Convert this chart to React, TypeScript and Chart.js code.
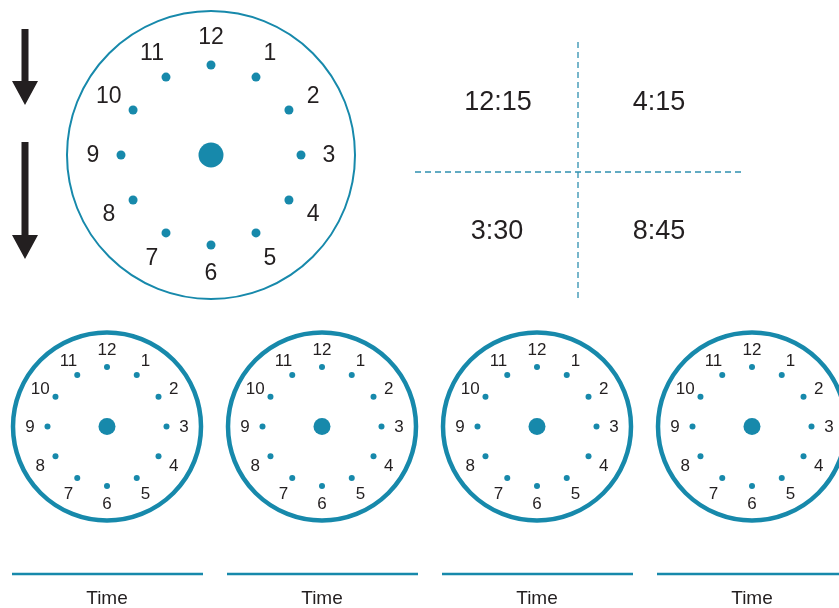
import React, { useEffect, useRef } from "react";
import { Chart, registerables } from "chart.js";

Chart.register(...registerables);

// ---- data ----
const hourLabels = [1, 2, 3, 4, 5, 6, 7, 8, 9, 10, 11, 12];
const quizTimes = ["12:15", "4:15", "3:30", "8:45"];
const answerLabel = "Time";
const smallClockCount = 4;

// ---- layout / style ----
const W = 839;
const H = 608;
const TEAL = "#1789ab";
const DASH = "#2f90b0";
const INK = "#231f20";
const FONT = "'Liberation Sans', Arial, Helvetica, sans-serif";

type ClockSpec = {
  cx: number; cy: number; r: number; lw: number;
  dotR: number; dotSize: number; numR: number; font: number; hubR: number;
};

const bigClock: ClockSpec = { cx: 211, cy: 155, r: 144, lw: 2, dotR: 90, dotSize: 4.5, numR: 118, font: 23, hubR: 12.5 };
const smallClocks: ClockSpec[] = Array.from({ length: smallClockCount }, (_, i) => ({
  cx: 107 + i * 215, cy: 426.5, r: 94, lw: 4.5, dotR: 59.5, dotSize: 3, numR: 77, font: 17, hubR: 8.5,
}));
const allClocks = [bigClock, ...smallClocks];

const angleOf = (h: number) => ((h % 12) / 12) * Math.PI * 2;

function dotPoints(c: ClockSpec) {
  return hourLabels.map((h) => ({
    x: c.cx + Math.sin(angleOf(h)) * c.dotR,
    y: c.cy - Math.cos(angleOf(h)) * c.dotR,
  }));
}

const worksheetPlugin = {
  id: "worksheet",
  beforeDatasetsDraw(chart: any) {
    const ctx = chart.ctx as CanvasRenderingContext2D;
    const xs = chart.scales.x;
    const ys = chart.scales.y;
    const px = (v: number) => xs.getPixelForValue(v);
    const py = (v: number) => ys.getPixelForValue(v);
    const sx = (d: number) => px(d) - px(0);
    ctx.save();

    // clock rims
    allClocks.forEach((c) => {
      ctx.beginPath();
      ctx.strokeStyle = TEAL;
      ctx.lineWidth = c.lw;
      ctx.arc(px(c.cx), py(c.cy), sx(c.r), 0, Math.PI * 2);
      ctx.stroke();
    });

    // hour numbers
    ctx.fillStyle = INK;
    ctx.textAlign = "center";
    ctx.textBaseline = "middle";
    allClocks.forEach((c) => {
      ctx.font = `${c.font}px ${FONT}`;
      hourLabels.forEach((h) => {
        const a = angleOf(h);
        ctx.fillText(String(h), px(c.cx + Math.sin(a) * c.numR), py(c.cy - Math.cos(a) * c.numR) + 1);
      });
    });

    // arrows
    const arrows = [
      { x: 25, y0: 29, y1: 105 },
      { x: 25, y0: 142, y1: 259 },
    ];
    ctx.fillStyle = INK;
    arrows.forEach((a) => {
      const shaft = 3.5;
      const head = 13;
      const headLen = 24;
      ctx.beginPath();
      ctx.moveTo(px(a.x - shaft), py(a.y0));
      ctx.lineTo(px(a.x + shaft), py(a.y0));
      ctx.lineTo(px(a.x + shaft), py(a.y1 - headLen));
      ctx.lineTo(px(a.x + head), py(a.y1 - headLen));
      ctx.lineTo(px(a.x), py(a.y1));
      ctx.lineTo(px(a.x - head), py(a.y1 - headLen));
      ctx.lineTo(px(a.x - shaft), py(a.y1 - headLen));
      ctx.closePath();
      ctx.fill();
    });

    // dashed cross
    ctx.strokeStyle = DASH;
    ctx.lineWidth = 1.3;
    ctx.setLineDash([6, 4]);
    ctx.beginPath();
    ctx.moveTo(px(578), py(42));
    ctx.lineTo(px(578), py(300));
    ctx.moveTo(px(415), py(172));
    ctx.lineTo(px(741), py(172));
    ctx.stroke();
    ctx.setLineDash([]);

    // times
    ctx.fillStyle = INK;
    ctx.font = `27px ${FONT}`;
    const slots = [
      { x: 498, y: 102 }, { x: 659, y: 102 },
      { x: 497, y: 231 }, { x: 659, y: 231 },
    ];
    quizTimes.forEach((t, i) => ctx.fillText(t, px(slots[i].x), py(slots[i].y) + 1));

    // answer lines and labels
    smallClocks.forEach((c) => {
      ctx.strokeStyle = TEAL;
      ctx.lineWidth = 2.5;
      ctx.beginPath();
      ctx.moveTo(px(c.cx - 95), py(574));
      ctx.lineTo(px(c.cx + 96), py(574));
      ctx.stroke();
      ctx.fillStyle = INK;
      ctx.font = `19px ${FONT}`;
      ctx.fillText(answerLabel, px(c.cx), py(598) + 1);
    });
    ctx.restore();
  },
};

export default function App() {
  const ref = useRef<HTMLCanvasElement>(null);
  useEffect(() => {
    if (!ref.current) return;
    const datasets: any[] = [];
    allClocks.forEach((c) => {
      datasets.push({
        data: dotPoints(c),
        pointRadius: c.dotSize,
        pointBackgroundColor: TEAL,
        pointBorderWidth: 0,
        showLine: false,
        clip: false,
      });
      datasets.push({
        data: [{ x: c.cx, y: c.cy }],
        pointRadius: c.hubR,
        pointBackgroundColor: TEAL,
        pointBorderWidth: 0,
        showLine: false,
        clip: false,
      });
    });
    const chart = new Chart(ref.current, {
      type: "scatter",
      data: { datasets },
      options: {
        animation: false,
        responsive: false,
        maintainAspectRatio: false,
        layout: { padding: 0, autoPadding: false },
        events: [],
        plugins: { legend: { display: false }, tooltip: { enabled: false } },
        scales: {
          x: { type: "linear", min: 0, max: W, display: false },
          y: { type: "linear", min: 0, max: H, reverse: true, display: false },
        },
      },
      plugins: [worksheetPlugin],
    });
    return () => chart.destroy();
  }, []);
  return (
    <div style={{ position: "absolute", left: 0, top: 0, width: W, height: H, background: "#fff" }}>
      <canvas ref={ref} width={W} height={H} style={{ width: W, height: H, display: "block" }} />
    </div>
  );
}
